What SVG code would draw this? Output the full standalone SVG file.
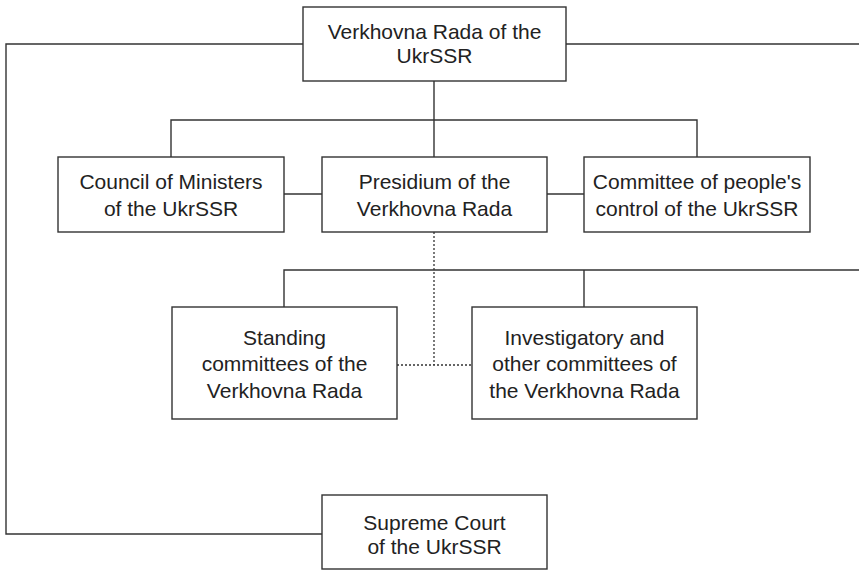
<svg xmlns="http://www.w3.org/2000/svg" width="859" height="571" viewBox="0 0 859 571">
<style>
.box{fill:#fff;stroke:#333;stroke-width:1.4}
.ln{fill:none;stroke:#333;stroke-width:1.4}
.dot{fill:none;stroke:#333;stroke-width:1.3;stroke-dasharray:2 2}
text{font-family:"Liberation Sans",Arial,Helvetica,sans-serif;font-size:21px;fill:#222;text-anchor:middle}
</style>
<rect width="859" height="571" fill="#fff"/>
<g id="connectors">
<path class="ln" d="M303,44 H6 V534 H322"/>
<path class="ln" d="M566,44 H859"/>
<path class="ln" d="M434,81 V157"/>
<path class="ln" d="M171,157 V120 H697 V157"/>
<path class="ln" d="M284,194 H322"/>
<path class="ln" d="M547,194 H584"/>
<path class="ln" d="M284,307 V270 H859"/>
<path class="ln" d="M584,270 V307"/>
<path class="dot" d="M434,232 V365"/>
<path class="dot" d="M397,365 H472"/>
</g>
<g id="verkhovna-rada">
<rect class="box" x="303" y="7" width="263" height="74"/>
<text x="434.5" y="39">Verkhovna Rada of the</text>
<text x="434.5" y="63">UkrSSR</text>
</g>
<g id="council-of-ministers">
<rect class="box" x="58" y="157" width="226" height="75"/>
<text x="171" y="189">Council of Ministers</text>
<text x="171" y="216">of the UkrSSR</text>
</g>
<g id="presidium">
<rect class="box" x="322" y="157" width="225" height="75"/>
<text x="434.5" y="189">Presidium of the</text>
<text x="434.5" y="216">Verkhovna Rada</text>
</g>
<g id="peoples-control">
<rect class="box" x="584" y="157" width="226" height="75"/>
<text x="697" y="189">Committee of people's</text>
<text x="697" y="216">control of the UkrSSR</text>
</g>
<g id="standing-committees">
<rect class="box" x="172" y="307" width="225" height="112"/>
<text x="284.5" y="345">Standing</text>
<text x="284.5" y="371">committees of the</text>
<text x="284.5" y="398">Verkhovna Rada</text>
</g>
<g id="investigatory-committees">
<rect class="box" x="472" y="307" width="225" height="112"/>
<text x="584.5" y="345">Investigatory and</text>
<text x="584.5" y="371">other committees of</text>
<text x="584.5" y="398">the Verkhovna Rada</text>
</g>
<g id="supreme-court">
<rect class="box" x="322" y="495" width="225" height="74"/>
<text x="434.5" y="530">Supreme Court</text>
<text x="434.5" y="554">of the UkrSSR</text>
</g>
</svg>
